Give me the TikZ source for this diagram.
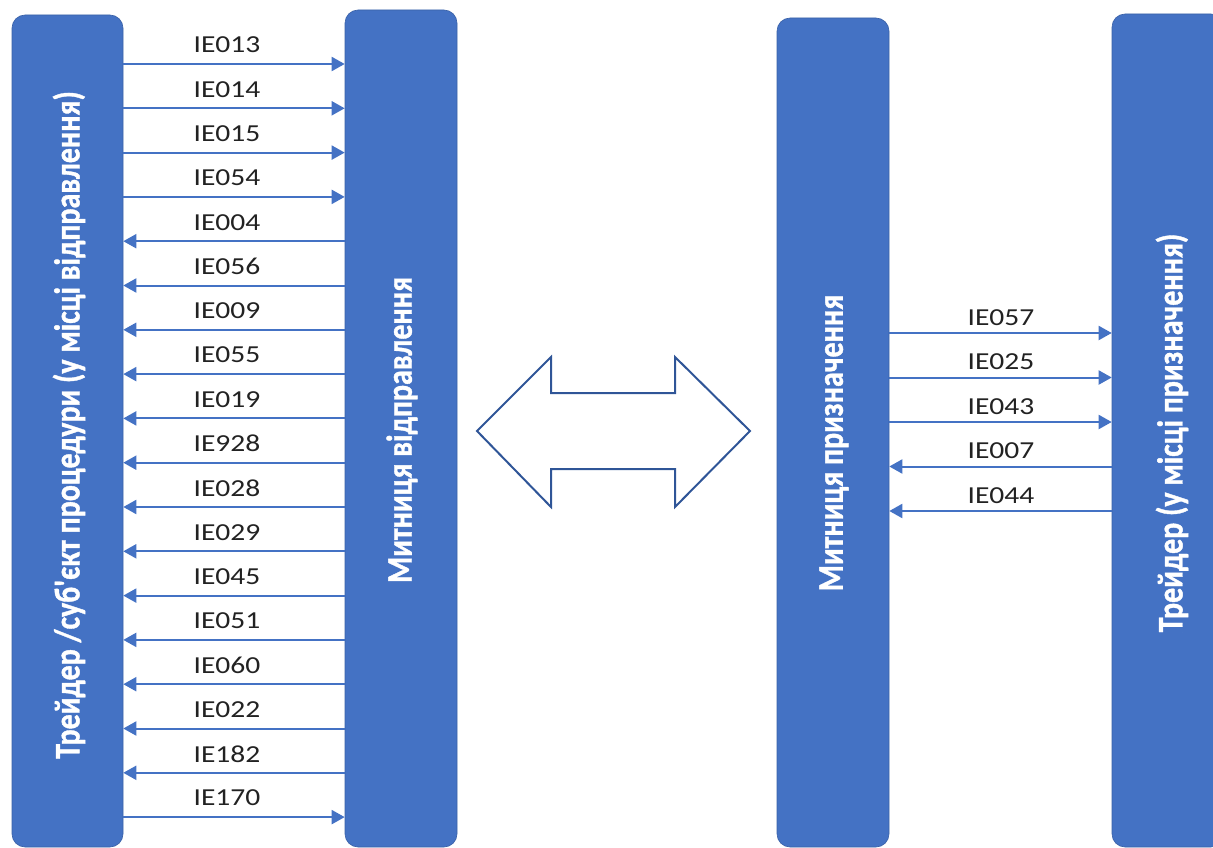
\documentclass[tikz,border=0pt]{standalone}
\usepackage{fontspec}
\setmainfont{Carlito}[BoldFont={Carlito Bold}]
\newfontfamily\heavyfont{Carlito Bold}[FakeBold=1.2]
\usetikzlibrary{arrows.meta}
\definecolor{barblue}{HTML}{4472C4}
\definecolor{outlineblue}{HTML}{2F5597}
\definecolor{labelgray}{HTML}{222222}
\begin{document}
\begin{tikzpicture}[x=1pt,y=-1pt,
  bar/.style={fill=barblue, draw=barblue!85!black, line width=0.6pt, rounded corners=13pt, inner sep=0pt},
  vtext/.style={text=white, rotate=90, inner sep=0pt, font=\heavyfont\fontsize{30}{36}\selectfont},
  lbl/.style={text=labelgray, inner sep=0pt, font=\fontsize{24.4}{28}\selectfont},
  conn/.style={draw=barblue, line width=2pt},
  toR/.style={-{Triangle[length=13pt,width=14pt]}},
  toL/.style={{Triangle[length=13pt,width=14pt]}-},
  dblarrow/.style={draw=outlineblue, line width=2pt, line join=miter}]
\useasboundingbox (0,0) rectangle (1213,848);
\clip (0,0) rectangle (1213,848);
% bars
\node[bar, minimum width=111pt, minimum height=832pt] (trader) at (67.5,431) {};
\node[bar, minimum width=112pt, minimum height=837pt] (cdep) at (401,428.5) {};
\node[bar, minimum width=112pt, minimum height=829pt] (cdest) at (833,432.5) {};
\node[bar, minimum width=112pt, minimum height=833pt] (tdest) at (1168,430.5) {};
% bar texts
\node[vtext] (t1) at (69,425) {\scalebox{1}[1.2]{Трейдер /суб'єкт процедури (у місці відправлення)}};
\node[vtext] (t2) at (402,430) {\scalebox{1}[1.2]{Митниця відправлення}};
\node[vtext] (t3) at (834,443) {\scalebox{1}[1.2]{Митниця призначення}};
\node[vtext] (t4) at (1172,433) {\scalebox{1}[1.2]{Трейдер (у місці призначення)}};
% left connectors
\foreach \lab/\d [count=\i] in {IE013/toR,IE014/toR,IE015/toR,IE054/toR,IE004/toL,IE056/toL,IE009/toL,IE055/toL,IE019/toL,IE928/toL,IE028/toL,IE029/toL,IE045/toL,IE051/toL,IE060/toL,IE022/toL,IE182/toL,IE170/toR}{
  \coordinate (L\i) at (0,{64+44.3*(\i-1)});
  \draw[conn,\d] (trader.east |- L\i) -- (cdep.west |- L\i);
  \node[lbl] (ll\i) at (227,{64+44.3*(\i-1)-19}) {\scalebox{1.21}[1]{\lab}};
}
% right connectors
\foreach \lab/\d [count=\i] in {IE057/toR,IE025/toR,IE043/toR,IE007/toL,IE044/toL}{
  \coordinate (R\i) at (0,{333+44.5*(\i-1)});
  \draw[conn,\d] (cdest.east |- R\i) -- (tdest.west |- R\i);
  \node[lbl] (rl\i) at (1001,{333+44.5*(\i-1)-15.5}) {\scalebox{1.21}[1]{\lab}};
}
% double arrow
\draw[dblarrow] (477,431) -- (551,357) -- (551,393) -- (675,393) -- (675,357) -- (750,431)
  -- (675,507) -- (675,469) -- (551,469) -- (551,507) -- cycle;
\end{tikzpicture}
\end{document}
